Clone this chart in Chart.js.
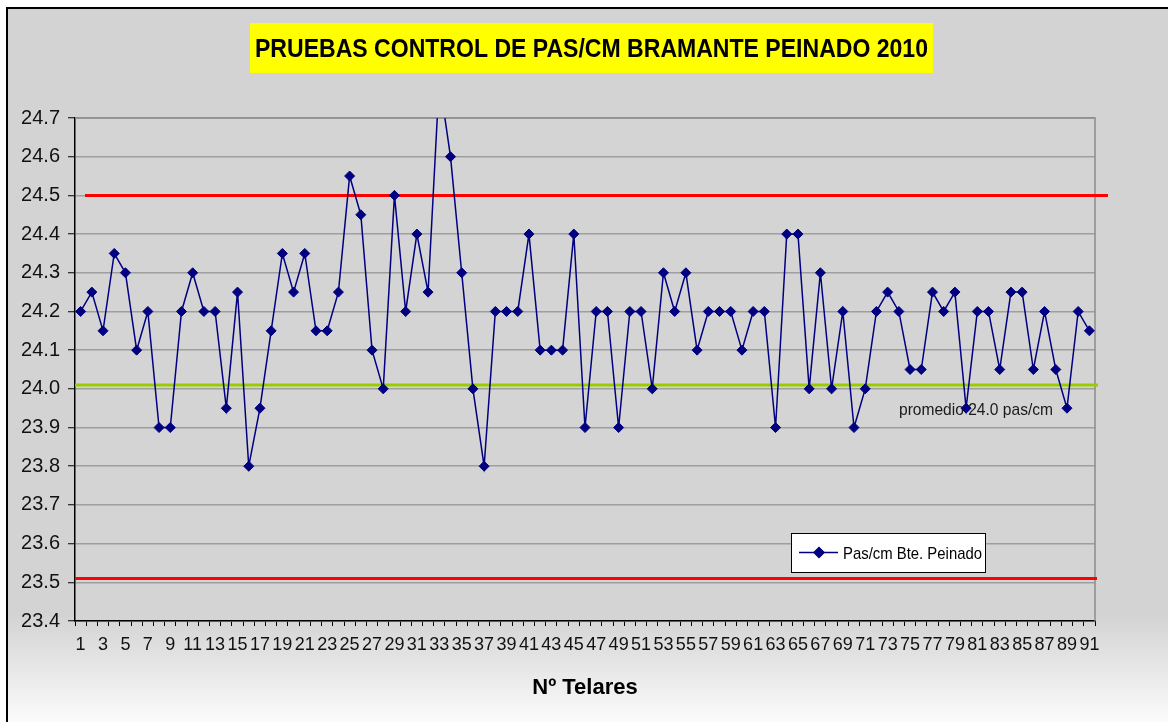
<!DOCTYPE html>
<html>
<head>
<meta charset="utf-8">
<title>Pruebas control de pas/cm</title>
<script src="https://cdn.jsdelivr.net/npm/chart.js@4/dist/chart.umd.min.js"></script>
<style>
  html, body { margin: 0; padding: 0; background: #fff; }
  #wrap { width: 1168px; height: 722px; }
</style>
</head>
<body>
<div id="wrap"><canvas id="lineChart" width="1168" height="722"></canvas></div>
<script>
// Telar numbers 1..91
var telares = [];
for (var n = 1; n <= 91; n++) telares.push(String(n));

// Measured pas/cm per loom
var pasCm = [
  24.2, 24.25, 24.15, 24.35, 24.3, 24.1, 24.2, 23.9, 23.9, 24.2,
  24.3, 24.2, 24.2, 23.95, 24.25, 23.8, 23.95, 24.15, 24.35, 24.25,
  24.35, 24.15, 24.15, 24.25, 24.55, 24.45, 24.1, 24.0, 24.5, 24.2,
  24.4, 24.25, 24.8, 24.6, 24.3, 24.0, 23.8, 24.2, 24.2, 24.2,
  24.4, 24.1, 24.1, 24.1, 24.4, 23.9, 24.2, 24.2, 23.9, 24.2,
  24.2, 24.0, 24.3, 24.2, 24.3, 24.1, 24.2, 24.2, 24.2, 24.1,
  24.2, 24.2, 23.9, 24.4, 24.4, 24.0, 24.3, 24.0, 24.2, 23.9,
  24.0, 24.2, 24.25, 24.2, 24.05, 24.05, 24.25, 24.2, 24.25, 23.95,
  24.2, 24.2, 24.05, 24.25, 24.25, 24.05, 24.2, 24.05, 23.95, 24.2,
  24.15
];

// Control limits and average
var limites = [24.5, 23.51];
var promedio = 24.01;
var yTicks = [23.4, 24.7, 0.1]; // min, max, step

var tituloTexto = 'PRUEBAS CONTROL DE PAS/CM BRAMANTE PEINADO 2010';
var promedioTexto = 'promedio 24.0 pas/cm';
var ejeXTitulo = 'Nº Telares';
var serieNombre = 'Pas/cm Bte. Peinado';

var fontNarrow = "'Liberation Sans Narrow', 'Arial Narrow', 'Liberation Sans', Arial, sans-serif";
var fontSans = "'Liberation Sans', Arial, sans-serif";
Chart.defaults.font.family = fontNarrow;
Chart.defaults.color = '#000';

// text squeezed horizontally to a given width
function fitText(ctx, text, cx, baseline, width) {
  var w = ctx.measureText(text).width;
  ctx.save();
  ctx.translate(cx, baseline);
  ctx.scale(width / w, 1);
  ctx.textAlign = 'center';
  ctx.textBaseline = 'alphabetic';
  ctx.fillText(text, 0, 0);
  ctx.restore();
}

var frame = {
  id: 'frame',
  beforeDraw: function(chart) {
    var ctx = chart.ctx, a = chart.chartArea;
    ctx.save();
    ctx.fillStyle = '#fff';
    ctx.fillRect(0, 0, chart.width, chart.height);
    var g = ctx.createLinearGradient(0, 8, 0, chart.height);
    g.addColorStop(0, '#d3d3d3');
    g.addColorStop((615 - 8) / (chart.height - 8), '#d3d3d3');
    g.addColorStop(1, '#fbfbfb');
    ctx.fillStyle = g;
    ctx.fillRect(7, 8, chart.width - 7, chart.height - 8);
    ctx.strokeStyle = '#000';
    ctx.lineWidth = 2;
    ctx.beginPath();
    ctx.moveTo(7, chart.height);
    ctx.lineTo(7, 8);
    ctx.lineTo(chart.width, 8);
    ctx.stroke();
    // plot area
    ctx.fillStyle = '#d4d4d4';
    ctx.fillRect(a.left, a.top, a.right - a.left, a.bottom - a.top);
    // title box
    ctx.fillStyle = '#ffff00';
    ctx.fillRect(250, 23, 683, 50);
    ctx.fillStyle = '#000';
    ctx.font = 'bold 26px ' + fontSans;
    fitText(ctx, tituloTexto, 591.5, 57, 673);
    ctx.restore();
  },
  beforeDatasetsDraw: function(chart) {
    var ctx = chart.ctx, a = chart.chartArea, y = chart.scales.y;
    ctx.save();
    // plot border (top and right)
    ctx.strokeStyle = '#8c8c8c';
    ctx.lineWidth = 1.5;
    ctx.beginPath();
    ctx.moveTo(a.left, a.top);
    ctx.lineTo(a.right, a.top);
    ctx.lineTo(a.right, a.bottom);
    ctx.stroke();
    // control limits
    ctx.lineWidth = 3;
    ctx.strokeStyle = '#ff0000';
    var yHi = y.getPixelForValue(limites[0]);
    var yLo = y.getPixelForValue(limites[1]);
    ctx.beginPath();
    ctx.moveTo(a.left + 10, yHi);
    ctx.lineTo(a.right + 13, yHi);
    ctx.moveTo(a.left, yLo);
    ctx.lineTo(a.right + 2, yLo);
    ctx.stroke();
    // average line
    var yAvg = y.getPixelForValue(promedio);
    ctx.strokeStyle = '#99cc00';
    ctx.beginPath();
    ctx.moveTo(a.left, yAvg);
    ctx.lineTo(a.right + 3, yAvg);
    ctx.stroke();
    ctx.fillStyle = '#1a1a1a';
    ctx.font = '17px ' + fontSans;
    fitText(ctx, promedioTexto, 976, yAvg + 30, 154);
    ctx.restore();
  },
  afterDatasetsDraw: function(chart) {
    var ctx = chart.ctx, ds = chart.data.datasets[0];
    ctx.save();
    ctx.fillStyle = '#fff';
    ctx.fillRect(791, 533, 194, 39);
    ctx.strokeStyle = '#000';
    ctx.lineWidth = 1;
    ctx.strokeRect(791.5, 533.5, 194, 39);
    ctx.strokeStyle = ds.borderColor;
    ctx.lineWidth = 1.5;
    ctx.beginPath();
    ctx.moveTo(799, 552.5);
    ctx.lineTo(838, 552.5);
    ctx.stroke();
    Chart.helpers.drawPoint(ctx, {pointStyle: 'rectRot', radius: 5, borderWidth: 1}, 819, 552.5);
    ctx.fillStyle = ds.pointBackgroundColor;
    ctx.fill();
    ctx.fillStyle = '#000';
    ctx.font = '17px ' + fontSans;
    fitText(ctx, ds.label, 912.5, 558.5, 139);
    ctx.restore();
  }
};

var ctx = document.getElementById('lineChart');
var chart = new Chart(ctx, {
  type: 'line',
  data: {
    labels: telares,
    datasets: [{
      label: serieNombre,
      data: pasCm,
      borderColor: '#000080',
      borderWidth: 1.5,
      pointStyle: 'rectRot',
      pointRadius: 5,
      pointHoverRadius: 5,
      pointBackgroundColor: '#000080',
      pointBorderColor: '#000080',
      pointBorderWidth: 1,
      tension: 0,
      clip: { left: 10, right: 10, top: 0, bottom: 10 }
    }]
  },
  options: {
    responsive: false,
    animation: false,
    events: [],
    layout: { padding: { left: 0, right: 73, top: 118, bottom: 21 } },
    plugins: {
      legend: { display: false },
      title: { display: false },
      tooltip: { enabled: false }
    },
    scales: {
      x: {
        type: 'category',
        offset: true,
        afterFit: function(s) { s.height = 80; },
        border: { color: '#000', width: 1.5 },
        grid: { offset: true, drawOnChartArea: false, drawTicks: true, tickLength: 5, tickColor: '#000', lineWidth: 1 },
        ticks: {
          autoSkip: false,
          maxRotation: 0,
          minRotation: 0,
          padding: 8,
          font: { size: 18 },
          color: '#111',
          callback: function(v, i) { return i % 2 === 0 ? this.getLabelForValue(v) : ''; }
        },
        title: {
          display: true,
          text: ejeXTitulo,
          font: { size: 22, weight: 'bold', family: fontNarrow },
          color: '#000',
          padding: { top: 0, bottom: 0 }
        }
      },
      y: {
        min: yTicks[0],
        max: yTicks[1],
        afterFit: function(s) { s.width = 75; },
        border: { color: '#000', width: 1.5 },
        grid: { color: '#9e9e9e', lineWidth: 1.5, tickLength: 7, tickColor: '#000', tickWidth: 1 },
        ticks: {
          stepSize: yTicks[2],
          padding: 8,
          font: { size: 20 },
          color: '#111',
          callback: function(v) { return Number(v).toFixed(1); }
        }
      }
    }
  },
  plugins: [frame]
});
</script>
</body>
</html>
